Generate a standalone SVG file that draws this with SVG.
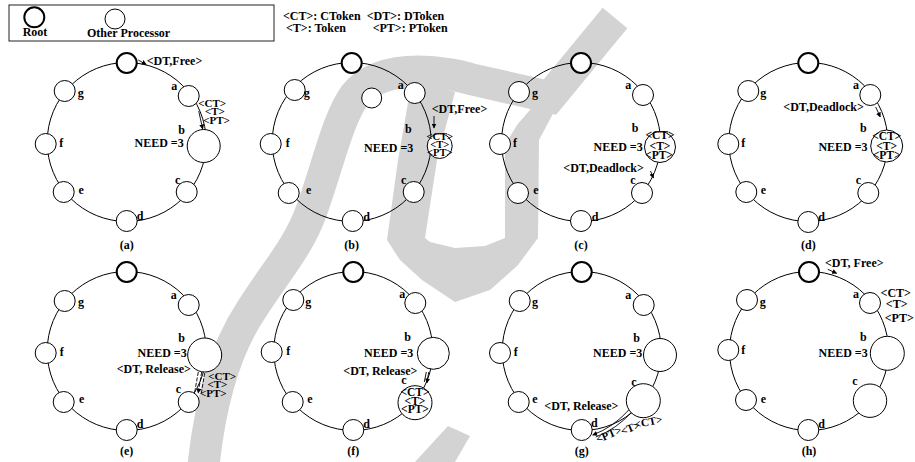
<svg xmlns="http://www.w3.org/2000/svg" width="915" height="462" viewBox="0 0 915 462">
<defs>
<style>
.ring{fill:none;stroke:#000;stroke-width:1}
.c{fill:#fff;stroke:#000;stroke-width:1}
.r{fill:#fff;stroke:#000;stroke-width:2}
.t{font-family:"Liberation Serif","Times New Roman",serif;font-weight:bold;font-size:12px;fill:#000}
.s{font-size:10.5px}
.k{font-size:11px}
.q{font-size:11.5px}
.m{text-anchor:middle}
.e{text-anchor:end}
.arr{stroke:#000;stroke-width:0.9;fill:none}
.dash{stroke:#000;stroke-width:0.9;fill:none;stroke-dasharray:4 1.5}
.wm{fill:none;stroke:#d3d3d3;stroke-linecap:butt;stroke-linejoin:miter;stroke-miterlimit:6}
</style>
<marker id="ah" markerWidth="5" markerHeight="5" refX="4.5" refY="2.5" orient="auto" markerUnits="userSpaceOnUse"><path d="M0,0 L5,2.5 L0,5 z" fill="#000"/></marker>
</defs>
<rect width="915" height="462" fill="#fff"/>
<g id="watermark">
<path class="wm" stroke-width="32" d="M203,470 C210,400 225,350 250,312 C275,272 298,248 311,212 C328,165 338,118 355,95 C372,75 400,70 430,72 C450,74 462,76 470,79 L550,97 L615,18"/>
<polygon fill="#d3d3d3" points="412,80 398,160 387,240 400,260 422,280 455,302 490,290 518,265 538,238 539,140 556,108 535,104 517,125 505,145 505,238 485,246 455,248 430,242 425,238 437,160 455,92"/>
<polygon points="415,462 448,426 470,436 455,462" fill="#d3d3d3"/>
</g>
<g id="legend">
<rect x="9" y="5" width="265" height="36" fill="none" stroke="#222" stroke-width="1"/>
<g id="legend-root"><circle class="r" cx="34.3" cy="17.3" r="10"/><text class="t" x="22.7" y="36">Root</text></g>
<g id="legend-other"><circle class="c" cx="115" cy="19" r="10"/><text class="t" x="87" y="37">Other Processor</text></g>
<text class="t" x="283" y="20">&lt;CT&gt;: CToken</text>
<text class="t" x="366.7" y="20">&lt;DT&gt;: DToken</text>
<text class="t" x="286" y="31.7">&lt;T&gt;: Token</text>
<text class="t" x="372.7" y="31.7">&lt;PT&gt;: PToken</text>
</g>

<g id="panel-a" transform="translate(126.7,142)">
<g id="a-connectors"><circle class="ring" r="79.5"/><line class="arr" x1="11.5" y1="-82" x2="19.5" y2="-77.5" marker-end="url(#ah)"/><line class="arr" x1="72" y1="-31" x2="76" y2="-13" marker-end="url(#ah)"/></g>
<g id="a-root"><circle class="r" cx="0" cy="-79" r="10"/></g>
<g id="a-a"><circle class="c" cx="62" cy="-46" r="10.5"/><text class="t m" x="47.5" y="-52">a</text></g>
<g id="a-b"><circle class="c" cx="77" cy="4" r="16.5"/><text class="t m" x="55" y="-8.5">b</text><text class="t e" x="57" y="5">NEED =3</text></g>
<g id="a-c"><circle class="c" cx="60" cy="50" r="10.5"/><text class="t m" x="51" y="42">c</text></g>
<g id="a-d"><circle class="c" cx="0" cy="79" r="10.5"/><text class="t m" x="13.5" y="78">d</text></g>
<g id="a-e"><circle class="c" cx="-63" cy="50" r="10.5"/><text class="t m" x="-45.5" y="52">e</text></g>
<g id="a-f"><circle class="c" cx="-81" cy="2" r="10.5"/><text class="t m" x="-65.5" y="5">f</text></g>
<g id="a-g"><circle class="c" cx="-62" cy="-51" r="10.5"/><text class="t m" x="-46" y="-45">g</text></g>
<text class="t" x="20" y="-77">&lt;DT,Free&gt;</text>
<text class="t k" x="71.6" y="-35.5">&lt;CT&gt;</text>
<text class="t k" x="78.3" y="-26.8">&lt;T&gt;</text>
<text class="t k" x="76.6" y="-18">&lt;PT&gt;</text>
<text class="t m" x="0" y="107">(a)</text>
</g>

<g id="panel-b" transform="translate(351.7,142)">
<g id="b-connectors"><circle class="ring" r="79.5"/><line class="arr" x1="82.3" y1="-26" x2="82.3" y2="-14" marker-end="url(#ah)"/></g>
<g id="b-root"><circle class="r" cx="0" cy="-79" r="10"/></g>
<g id="b-a"><circle class="c" cx="63" cy="-49" r="10.5"/><text class="t m" x="49" y="-53">a</text></g>
<g id="b-x"><circle class="c" cx="20" cy="-44" r="10"/></g>
<g id="b-b"><circle class="c" cx="88" cy="4" r="12.5"/><text class="t m" x="56.6" y="-8.7">b</text><text class="t e" x="61.6" y="10.3">NEED =3</text>
<text class="t s m" x="88" y="-2">&lt;CT&gt;</text><text class="t s m" x="88" y="6.3">&lt;T&gt;</text><text class="t s m" x="88" y="14">&lt;PT&gt;</text></g>
<g id="b-c"><circle class="c" cx="62" cy="50" r="10.5"/><text class="t m" x="52" y="42">c</text></g>
<g id="b-d"><circle class="c" cx="1" cy="79" r="10.5"/><text class="t m" x="15" y="78.7">d</text></g>
<g id="b-e"><circle class="c" cx="-63" cy="51" r="10.5"/><text class="t m" x="-43" y="52">e</text></g>
<g id="b-f"><circle class="c" cx="-81" cy="2" r="10.5"/><text class="t m" x="-64" y="5">f</text></g>
<g id="b-g"><circle class="c" cx="-57" cy="-52" r="10.5"/><text class="t m" x="-45" y="-45">g</text></g>
<text class="t" x="80" y="-28.7">&lt;DT,Free&gt;</text>
<text class="t m" x="0" y="107">(b)</text>
</g>

<g id="panel-c" transform="translate(581,142)">
<g id="c-connectors"><circle class="ring" r="79.5"/><line class="arr" x1="69.5" y1="29" x2="72.5" y2="36" marker-end="url(#ah)"/></g>
<g id="c-root"><circle class="r" cx="0" cy="-79" r="10"/></g>
<g id="c-a"><circle class="c" cx="62" cy="-47" r="10.5"/><text class="t m" x="47.3" y="-52.7">a</text></g>
<g id="c-b"><circle class="c" cx="79" cy="5" r="15.5"/><text class="t m" x="54" y="-9.7">b</text><text class="t e" x="61.7" y="8.7">NEED =3</text>
<text class="t q m" x="79" y="-2.7">&lt;CT&gt;</text><text class="t q m" x="79" y="7.5">&lt;T&gt;</text><text class="t q m" x="78" y="17.3">&lt;PT&gt;</text></g>
<g id="c-c"><circle class="c" cx="61" cy="51" r="10.5"/><text class="t m" x="52" y="42">c</text></g>
<g id="c-d"><circle class="c" cx="0" cy="79" r="10.5"/><text class="t m" x="14" y="78.7">d</text></g>
<g id="c-e"><circle class="c" cx="-63" cy="51" r="10.5"/><text class="t m" x="-45" y="52">e</text></g>
<g id="c-f"><circle class="c" cx="-81" cy="2" r="10.5"/><text class="t m" x="-66" y="5.3">f</text></g>
<g id="c-g"><circle class="c" cx="-62" cy="-50" r="10.5"/><text class="t m" x="-46" y="-44.7">g</text></g>
<text class="t" x="-17.7" y="29.7">&lt;DT,Deadlock&gt;</text>
<text class="t m" x="0" y="107">(c)</text>
</g>

<g id="panel-d" transform="translate(808.3,142)">
<g id="d-connectors"><circle class="ring" r="79.5"/><line class="arr" x1="67.4" y1="-35" x2="72" y2="-25" marker-end="url(#ah)"/></g>
<g id="d-root"><circle class="r" cx="0" cy="-79" r="10"/></g>
<g id="d-a"><circle class="c" cx="62" cy="-47" r="10.5"/><text class="t m" x="47.7" y="-52.7">a</text></g>
<g id="d-b"><circle class="c" cx="78.4" cy="4" r="16"/><text class="t m" x="55" y="-9.7">b</text><text class="t e" x="59.3" y="8.7">NEED =3</text>
<text class="t q m" x="78.4" y="-2">&lt;CT&gt;</text><text class="t q m" x="78.4" y="7.5">&lt;T&gt;</text><text class="t q m" x="78.4" y="17.3">&lt;PT&gt;</text></g>
<g id="d-c"><circle class="c" cx="60" cy="51" r="10.5"/><text class="t m" x="50" y="42">c</text></g>
<g id="d-d"><circle class="c" cx="0" cy="80" r="10.5"/><text class="t m" x="13.3" y="78.7">d</text></g>
<g id="d-e"><circle class="c" cx="-62" cy="50" r="10.5"/><text class="t m" x="-45" y="52">e</text></g>
<g id="d-f"><circle class="c" cx="-80" cy="2" r="10.5"/><text class="t m" x="-65" y="5.3">f</text></g>
<g id="d-g"><circle class="c" cx="-60" cy="-51" r="10.5"/><text class="t m" x="-45" y="-44.7">g</text></g>
<text class="t" x="-25" y="-31.3">&lt;DT,Deadlock&gt;</text>
<text class="t m" x="0" y="107">(d)</text>
</g>

<g id="panel-e" transform="translate(126.7,351)">
<g id="e-connectors"><circle class="ring" r="79.5"/>
<line class="dash" x1="71.6" y1="21" x2="68" y2="41"/><line class="dash" x1="75" y1="21" x2="71.5" y2="42" marker-end="url(#ah)"/><line class="dash" x1="78" y1="22" x2="74.5" y2="43"/></g>
<g id="e-root"><circle class="r" cx="0" cy="-79" r="10"/></g>
<g id="e-a"><circle class="c" cx="62" cy="-46" r="10.5"/><text class="t m" x="47" y="-51.7">a</text></g>
<g id="e-b"><circle class="c" cx="78" cy="4" r="17"/><text class="t m" x="55" y="-9.3">b</text><text class="t e" x="60" y="6.3">NEED =3</text></g>
<g id="e-c"><circle class="c" cx="62" cy="51" r="10.5"/><text class="t m" x="51.7" y="42.3">c</text></g>
<g id="e-d"><circle class="c" cx="0" cy="79" r="10.5"/><text class="t m" x="13.3" y="77.3">d</text></g>
<g id="e-e"><circle class="c" cx="-63" cy="51" r="10.5"/><text class="t m" x="-45" y="52.3">e</text></g>
<g id="e-f"><circle class="c" cx="-81" cy="2" r="10.5"/><text class="t m" x="-65" y="5">f</text></g>
<g id="e-g"><circle class="c" cx="-62" cy="-50" r="10.5"/><text class="t m" x="-45.7" y="-45">g</text></g>
<text class="t" x="-10" y="22.3">&lt;DT, Release&gt;</text>
<text class="t k" x="81.6" y="28.5">&lt;CT&gt;</text>
<text class="t k" x="80.7" y="37">&lt;T&gt;</text>
<text class="t k" x="73.3" y="45.5">&lt;PT&gt;</text>
<text class="t m" x="0" y="104">(e)</text>
</g>

<g id="panel-f" transform="translate(353.3,351)">
<g id="f-connectors"><circle class="ring" r="79.5"/><line class="arr" x1="73" y1="21" x2="71" y2="31"/><line class="arr" x1="75.5" y1="21" x2="73.5" y2="32" marker-end="url(#ah)"/></g>
<g id="f-root"><circle class="r" cx="0" cy="-79" r="10"/></g>
<g id="f-a"><circle class="c" cx="62" cy="-48" r="10.5"/><text class="t m" x="49" y="-52.7">a</text></g>
<g id="f-b"><circle class="c" cx="80" cy="2.3" r="16"/><text class="t m" x="54.3" y="-10">b</text><text class="t e" x="60" y="5.7">NEED =3</text></g>
<g id="f-c"><circle class="c" cx="61.7" cy="51.7" r="17"/><text class="t m" x="50.7" y="33">c</text>
<text class="t q m" x="61.7" y="45">&lt;CT&gt;</text><text class="t q m" x="61.7" y="53.5">&lt;T&gt;</text><text class="t q m" x="61.7" y="62">&lt;PT&gt;</text></g>
<g id="f-d"><circle class="c" cx="0" cy="79" r="10.5"/><text class="t m" x="13.4" y="77.3">d</text></g>
<g id="f-e"><circle class="c" cx="-60.6" cy="51" r="10.5"/><text class="t m" x="-43.3" y="52.3">e</text></g>
<g id="f-f"><circle class="c" cx="-81.6" cy="1" r="10.5"/><text class="t m" x="-65" y="4">f</text></g>
<g id="f-g"><circle class="c" cx="-60" cy="-51" r="10.5"/><text class="t m" x="-45" y="-45.3">g</text></g>
<text class="t" x="-10" y="24">&lt;DT, Release&gt;</text>
<text class="t m" x="0" y="104">(f)</text>
</g>

<g id="panel-g" transform="translate(581.7,351)">
<g id="g-connectors"><circle class="ring" r="79.5"/><path class="arr" d="M47,59 Q32,76 11,84" marker-end="url(#ah)"/><path class="arr" d="M50,61 Q35,78 14,86"/></g>
<g id="g-root"><circle class="r" cx="0" cy="-79" r="10"/></g>
<g id="g-a"><circle class="c" cx="62" cy="-46" r="10.5"/><text class="t m" x="46.6" y="-51.7">a</text></g>
<g id="g-b"><circle class="c" cx="78.3" cy="4" r="16.5"/><text class="t m" x="55" y="-9.3">b</text><text class="t e" x="60.6" y="6.3">NEED =3</text></g>
<g id="g-c"><circle class="c" cx="61.6" cy="49.7" r="17"/><text class="t m" x="52.3" y="35">c</text></g>
<g id="g-d"><circle class="c" cx="0" cy="79" r="10.5"/><text class="t m" x="12.6" y="76.3">d</text></g>
<g id="g-e"><circle class="c" cx="-63" cy="51" r="10.5"/><text class="t m" x="-46.7" y="52.3">e</text></g>
<g id="g-f"><circle class="c" cx="-81.7" cy="2" r="10.5"/><text class="t m" x="-66" y="5">f</text></g>
<g id="g-g"><circle class="c" cx="-62" cy="-50" r="10.5"/><text class="t m" x="-46.7" y="-45">g</text></g>
<text class="t" x="-37.4" y="59">&lt;DT, Release&gt;</text>
<text class="t k m" transform="translate(28.3,87) rotate(-22)">&lt;PT&gt;</text>
<text class="t k m" transform="translate(50,80.5) rotate(-22)">&lt;T&gt;</text>
<text class="t k m" transform="translate(67.5,74.5) rotate(-12)">&lt;CT&gt;</text>
<text class="t m" x="0" y="104">(g)</text>
</g>

<g id="panel-h" transform="translate(809,351)">
<g id="h-connectors"><circle class="ring" r="79.5"/><line class="arr" x1="18.7" y1="-81.7" x2="27.7" y2="-77.7" marker-end="url(#ah)"/></g>
<g id="h-root"><circle class="r" cx="0" cy="-79" r="10"/></g>
<g id="h-a"><circle class="c" cx="61" cy="-48" r="10.5"/><text class="t m" x="47" y="-52.7">a</text></g>
<g id="h-b"><circle class="c" cx="78.3" cy="2.3" r="17"/><text class="t m" x="54.3" y="-10">b</text><text class="t e" x="58.7" y="5.7">NEED =3</text></g>
<g id="h-c"><circle class="c" cx="61" cy="49.7" r="16.7"/><text class="t m" x="46" y="34">c</text></g>
<g id="h-d"><circle class="c" cx="-0.7" cy="79" r="10.5"/><text class="t m" x="12.7" y="77.3">d</text></g>
<g id="h-e"><circle class="c" cx="-63" cy="49" r="10.5"/><text class="t m" x="-45.7" y="52.3">e</text></g>
<g id="h-f"><circle class="c" cx="-80.7" cy="-1" r="10.5"/><text class="t m" x="-65.7" y="3.3">f</text></g>
<g id="h-g"><circle class="c" cx="-62" cy="-51" r="10.5"/><text class="t m" x="-46.3" y="-45.3">g</text></g>
<text class="t" x="16" y="-84.3">&lt;DT, Free&gt;</text>
<text class="t m" x="86.8" y="-54.3">&lt;CT&gt;</text>
<text class="t m" x="87.7" y="-42.7">&lt;T&gt;</text>
<text class="t m" x="90.3" y="-29.3">&lt;PT&gt;</text>
<text class="t m" x="0" y="104">(h)</text>
</g>
</svg>
